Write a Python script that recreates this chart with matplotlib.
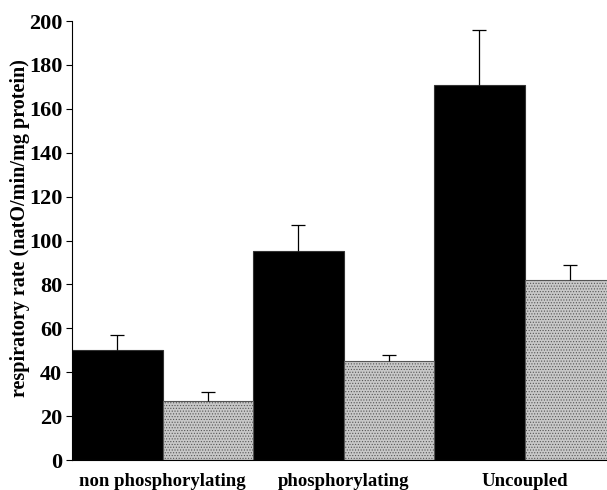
import numpy as np
import matplotlib.pyplot as plt

plt.rcParams['font.family'] = ['Liberation Serif', 'DejaVu Serif']
plt.rcParams['font.weight'] = 'bold'
plt.rcParams['hatch.color'] = '#a8a8a8'
plt.rcParams['hatch.linewidth'] = 0.5

# data
groups = ['non phosphorylating', 'phosphorylating', 'Uncoupled']
black_vals = [50, 95, 171]
black_err = [7, 12, 25]
grey_vals = [27, 45, 82]
grey_err = [4, 3, 7]
yticks = [0, 20, 40, 60, 80, 100, 120, 140, 160, 180, 200]

fig = plt.figure(figsize=(6.07, 4.90), dpi=100)
ax = fig.add_axes([0.1186, 0.0612, 0.8814, 0.8959])

x = np.arange(len(groups)) * 2
ax.bar(x, black_vals, width=1.0, color='black', edgecolor='#333333', linewidth=0.8)
ax.bar(x + 1, grey_vals, width=1.0, color='#c8c8c8', edgecolor='#555555',
       linewidth=0.8, hatch='......')

# upward-only error bars, drop the bottom caps
for xs, vals, errs in [(x, black_vals, black_err), (x + 1, grey_vals, grey_err)]:
    eb = ax.errorbar(xs, vals, yerr=[np.zeros(3), errs], fmt='none',
                     ecolor='black', elinewidth=0.9, capsize=5, capthick=0.9)
    eb[1][0].set_visible(False)

ax.set_xlim(-0.5, 5.41)
ax.set_ylim(0, 200)
ax.set_yticks(yticks)
ax.set_yticklabels([str(t) for t in yticks], fontsize=16, fontweight='bold')
ax.set_xticks(x + 0.5)
ax.set_xticklabels(groups, fontsize=13.5, fontweight='bold')
ax.tick_params(axis='x', length=0, pad=9)
ax.tick_params(axis='y', direction='out', length=4, width=0.8, pad=3)

ax.spines['top'].set_visible(False)
ax.spines['right'].set_visible(False)
ax.spines['left'].set_linewidth(0.8)
ax.spines['bottom'].set_linewidth(0.8)

ax.set_ylabel('respiratory rate (natO/min/mg protein)', fontsize=14.5,
              fontweight='bold')
ax.yaxis.set_label_coords(-0.078, 0.528)

fig.savefig('out.png', dpi=100)
